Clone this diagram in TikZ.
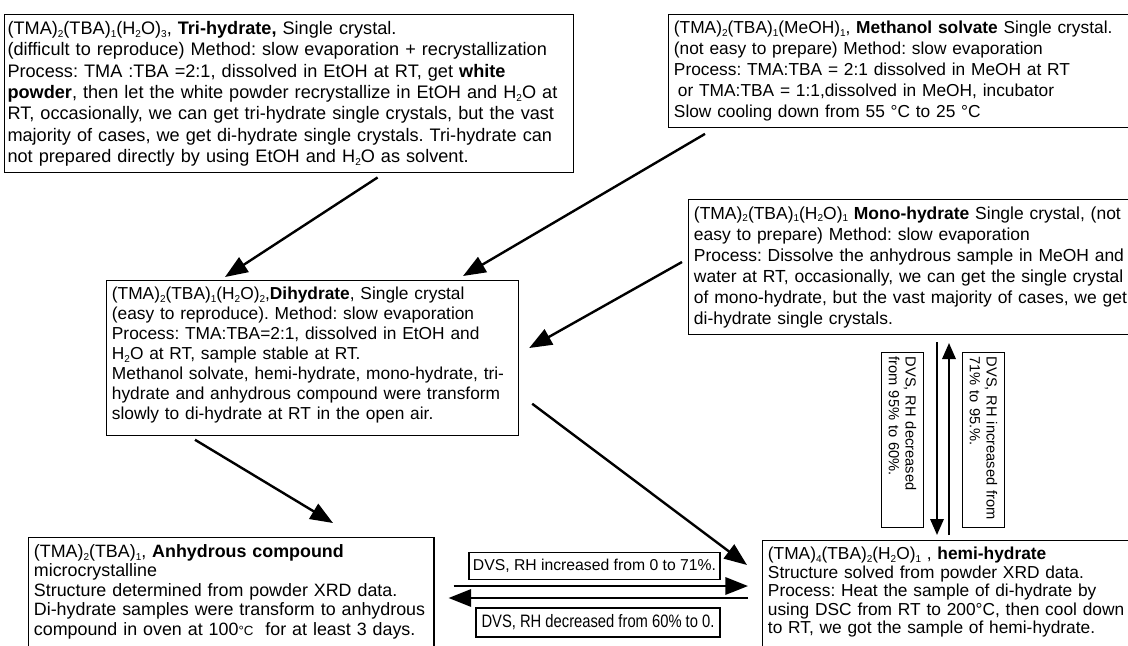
\documentclass[tikz,border=0pt]{standalone}
\usepackage{fontspec}
\setmainfont{Liberation Sans}
\usetikzlibrary{arrows.meta,calc}
\frenchspacing
\begin{document}
\begin{tikzpicture}[x=0.75pt,y=-0.75pt,
    box/.style={draw, line width=0.9pt, anchor=north west, align=left, inner xsep=4pt, inner ysep=5pt, font=\fontsize{13}{15}\selectfont},
    lbl/.style={draw, line width=0.9pt, inner xsep=3pt, inner ysep=2.5pt, font=\fontsize{11.8}{12.5}\selectfont},
    arr/.style={line width=1.8pt, -{Triangle[length=17pt,width=13pt]}},
    varr/.style={line width=1.7pt, -{Triangle[length=12pt,width=10pt]}}]
    \def\sbs#1{\raisebox{-0.3ex}{\fontsize{7.5}{8}\selectfont #1}}

    \useasboundingbox (0,0) rectangle (1128,646);
    \clip (0,0) rectangle (1128,646);

    \node[box, text width=422pt, inner xsep=2.5pt, font=\fontsize{13.6}{16}\selectfont] (tri) at (3.6,14) {(TMA)\sbs{2}(TBA)\sbs{1}(H\sbs{2}O)\sbs{3}, \textbf{Tri-hydrate,} Single crystal.\\
        (difficult to reproduce) Method: slow evaporation + recrystallization\\
        Process: TMA :TBA =2:1, dissolved in EtOH at RT, get \textbf{white}\\
        \textbf{powder}, then let the white powder recrystallize in EtOH and H\sbs{2}O at\\
        RT, occasionally, we can get tri-hydrate single crystals, but the vast\\
        majority of cases, we get di-hydrate single crystals. Tri-hydrate can\\
        not prepared directly by using EtOH and H\sbs{2}O as solvent.};

    \node[box, text width=470pt, font=\fontsize{13}{15.6}\selectfont] (meth) at (668,14) {(TMA)\sbs{2}(TBA)\sbs{1}(MeOH)\sbs{1}, \textbf{Methanol solvate} Single crystal.\\
        (not easy to prepare) Method: slow evaporation\\
        Process: TMA:TBA = 2:1 dissolved in MeOH at RT\\
        \hspace*{3pt}or TMA:TBA = 1:1,dissolved in MeOH, incubator\\
        Slow cooling down from 55 °C to 25 °C};

    \node[box, anchor=south west, text width=470pt, font=\fontsize{13.1}{15.75}\selectfont] (mono) at (688,335) {(TMA)\sbs{2}(TBA)\sbs{1}(H\sbs{2}O)\sbs{1} \textbf{Mono-hydrate} Single crystal, (not\\
        easy to prepare) Method: slow evaporation\\
        Process: Dissolve the anhydrous sample in MeOH and\\
        water at RT, occasionally, we can get the single crystal\\
        of mono-hydrate, but the vast majority of cases, we get\\
        di-hydrate single crystals.};

    \node[box, text width=301pt] (di) at (106,280) {(TMA)\sbs{2}(TBA)\sbs{1}(H\sbs{2}O)\sbs{2},\textbf{Dihydrate}, Single crystal\\
        (easy to reproduce). Method: slow evaporation\\
        Process: TMA:TBA=2:1, dissolved in EtOH and\\
        H\sbs{2}O at RT, sample stable at RT.\\
        Methanol solvate, hemi-hydrate, mono-hydrate, tri-\\
        hydrate and anhydrous compound were transform\\
        slowly to di-hydrate at RT in the open air.\\[-8.5pt]\mbox{}};

    \node[box, text width=296pt, font=\fontsize{13.4}{14.6}\selectfont] (anh) at (28,537) {(TMA)\sbs{2}(TBA)\sbs{1}, \textbf{Anhydrous compound}\\
        microcrystalline\\
        Structure determined from powder XRD data.\\
        Di-hydrate samples were transform to anhydrous\\
        compound in oven at 100{\fontsize{10}{12}\selectfont °C}\ \ for at least 3 days.\\ ~\\ ~};

    \node[box, text width=470pt, font=\fontsize{13}{13.9}\selectfont] (hemi) at (762,540) {(TMA)\sbs{4}(TBA)\sbs{2}(H\sbs{2}O)\sbs{1} , \textbf{hemi-hydrate}\\
        Structure solved from powder XRD data.\\
        Process: Heat the sample of di-hydrate by\\
        using DSC from RT to 200°C, then cool down\\
        to RT, we got the sample of hemi-hydrate.\\ ~\\ ~};

    \node[lbl, minimum height=20pt] (rhUp) at (594.5,566) {DVS, RH increased from 0 to 71\%.};
    \node[lbl, minimum height=21.75pt, minimum width=183pt] (rhDown) at (598,622.5) {\scalebox{0.82}[1]{\fontsize{13.5}{14}\selectfont DVS, RH decreased from 60\% to 0.}};
    \node[lbl, font=\fontsize{11}{12.5}\selectfont, rotate=-90, text width=125pt, align=left, minimum height=31pt] (rhFall) at (902.5,440) {DVS, RH decreased\\ from 95\% to 60\%.};
    \node[lbl, font=\fontsize{11}{12.5}\selectfont, rotate=-90, text width=125pt, align=left, minimum height=32pt] (rhRise) at (983.5,440) {DVS, RH increased from\\ 71\% to 95.\%.};

    \draw[arr] ($(tri.south west)+(374,4)$) -- ($(di.north west)+(119,-3)$);
    \draw[arr] ($(meth.south west)+(37,6)$) -- ($(di.north west)+(357,-4)$);
    \draw[arr] ($(mono.south west)+(-6,-73)$) -- ($(di.north east)+(10,68)$);
    \draw[arr] ($(di.south west)+(89,4)$) -- ($(anh.north west)+(305,-14)$);
    \draw[arr] ($(di.south east)+(13,-32)$) -- ($(hemi.north west)+(-15,25)$);

    \draw[varr] ($(mono.south west)+(249,7)$) -- ($(hemi.north west)+(175,-5)$);
    \draw[varr] ($(hemi.north west)+(187,-5)$) -- ($(mono.south west)+(261,8)$);

    \draw[arr] ($(anh.north east)+(19,49)$) -- ($(hemi.north west)+(-14,46)$);
    \draw[arr] ($(hemi.north west)+(-14,58)$) -- ($(anh.north east)+(14,61)$);
\end{tikzpicture}
\end{document}
